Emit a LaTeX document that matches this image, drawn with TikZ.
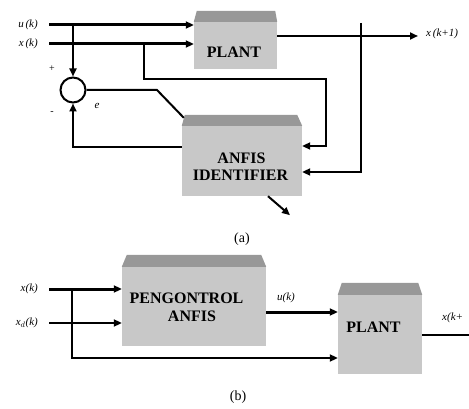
\documentclass[tikz,border=0pt]{standalone}
\usepackage{fontspec}
\setmainfont{Liberation Serif}
\usetikzlibrary{arrows.meta,calc}
\definecolor{bodygray}{RGB}{200,200,200}
\definecolor{capgray}{RGB}{152,152,152}
\tikzset{
  blockbody/.style={fill=bodygray, draw=none, inner sep=0pt, rectangle},
  capfill/.style={fill=capgray, draw=none},
  wire/.style={line width=2pt, line cap=butt},
  thickwire/.style={line width=3pt, line cap=butt},
  arr/.style={-{Triangle[length=8pt,width=7pt]}},
  lbl/.style={font=\fontsize{11}{13}\selectfont\itshape, inner sep=0pt},
  boxtext/.style={font=\fontsize{16}{17}\selectfont\bfseries, inner sep=0pt},
  captext/.style={font=\fontsize{14}{16}\selectfont, inner sep=0pt},
  signtext/.style={font=\fontsize{10}{12}\selectfont, inner sep=0pt}
}
\begin{document}
\begin{tikzpicture}[x=1pt,y=-1pt]
\useasboundingbox (0,0) rectangle (469,409);

% ---------------- (a) ----------------
\node[blockbody, minimum width=83pt, minimum height=47pt] (plantA) at (235.5,45.5) {};
\fill[capfill] (plantA.north west) -- ++(3,-11) -- ($(plantA.north east)+(-2,-11)$) -- (plantA.north east) -- cycle;
\node[boxtext] (plantAtxt) at (234,52) {PLANT};

\node[blockbody, minimum width=120pt, minimum height=70pt] (anfisA) at (242,161) {};
\fill[capfill] (anfisA.north west) -- ++(3,-11) -- ($(anfisA.north east)+(-5,-11)$) -- (anfisA.north east) -- cycle;
\node[boxtext] (anfisAtxt1) at (241.5,158) {ANFIS};
\node[boxtext] (anfisAtxt2) at (240.5,175) {IDENTIFIER};

\node[circle, draw, line width=2pt, minimum size=25pt, inner sep=0pt] (sum) at (73,90) {};

\coordinate (uin) at (49,25);
\coordinate (xin) at (49,44);
\coordinate (ubr) at (73,25);
\coordinate (xbr) at (144,44);
\coordinate (xcorner) at (326,79);
\coordinate (yout) at (418,36);
\coordinate (vtop) at (361,23);
\coordinate (ebend) at (157,90);

\draw[thickwire, arr] (uin) -- (uin -| plantA.west);
\draw[thickwire, arr] (xin) -- (xin -| plantA.west);
\draw[wire, arr] (ubr) -- (sum.north);
\draw[wire, arr] (xbr) |- (xcorner) |- ($(anfisA.east)+(0,-15)$);
\draw[wire, arr] (yout -| plantA.east) -- (yout);
\draw[wire, arr] (vtop) |- ($(anfisA.east)+(0,11)$);
\draw[wire] (sum.east) -- (ebend) -- ($(anfisA.north west)+(2,-8)$);
\draw[wire, arr] ($(anfisA.west)+(0,-14)$) -| (sum.south);
\draw[wire, arr] ($(anfisA.south)+(26,0)$) -- ++(22,19);

\node[lbl, anchor=east] (luA) at (38,25) {u\,(k)};
\node[lbl, anchor=east] (lxA) at (38,44) {x\,(k)};
\node[lbl, anchor=west] (lyA) at (426,34) {x\,(k+1)};
\node[signtext] (plus) at (52,69) {+};
\node[signtext] (minus) at (52,113) {-};
\node[lbl] (le) at (97,106) {e};
\node[captext] (capa) at (242,239) {(a)};

% ---------------- (b) ----------------
\node[blockbody, minimum width=144pt, minimum height=79pt] (ctrlB) at (194,306.5) {};
\fill[capfill] (ctrlB.north west) -- ++(5,-12) -- ($(ctrlB.north east)+(-5,-12)$) -- (ctrlB.north east) -- cycle;
\node[boxtext] (ctrlBtxt1) at (186.5,298) {PENGONTROL};
\node[boxtext] (ctrlBtxt2) at (192,316) {ANFIS};

\node[blockbody, minimum width=84pt, minimum height=79pt] (plantB) at (380,334.5) {};
\fill[capfill] (plantB.north west) -- ++(4,-12) -- ($(plantB.north east)+(-4,-12)$) -- (plantB.north east) -- cycle;
\node[boxtext] (plantBtxt) at (373.5,327) {PLANT};

\coordinate (xkB) at (49,289);
\coordinate (xdB) at (49,323);
\coordinate (brB) at (72,289);
\coordinate (lowB) at (72,358);
\coordinate (ukstart) at ($(ctrlB.east)+(0,5.5)$);
\coordinate (outB) at (469,335);

\draw[thickwire, arr] (xkB) -- (xkB -| ctrlB.west);
\draw[wire, arr] (xdB) -- (xdB -| ctrlB.west);
\draw[wire, arr] (brB) -- (lowB) -- (lowB -| plantB.west);
\draw[thickwire, arr] (ukstart) -- (ukstart -| plantB.west);
\draw[wire] (outB -| plantB.east) -- (outB);

\node[lbl, anchor=east] (lxB) at (38,289) {x(k)};
\node[lbl, anchor=east] (ldB) at (38,323) {x$_{d}$(k)};
\node[lbl] (luB) at (286,298) {u(k)};
\node[lbl, anchor=west] (lyB) at (442,318) {x(k+};
\node[captext] (capb) at (238,397) {(b)};
\end{tikzpicture}
\end{document}
